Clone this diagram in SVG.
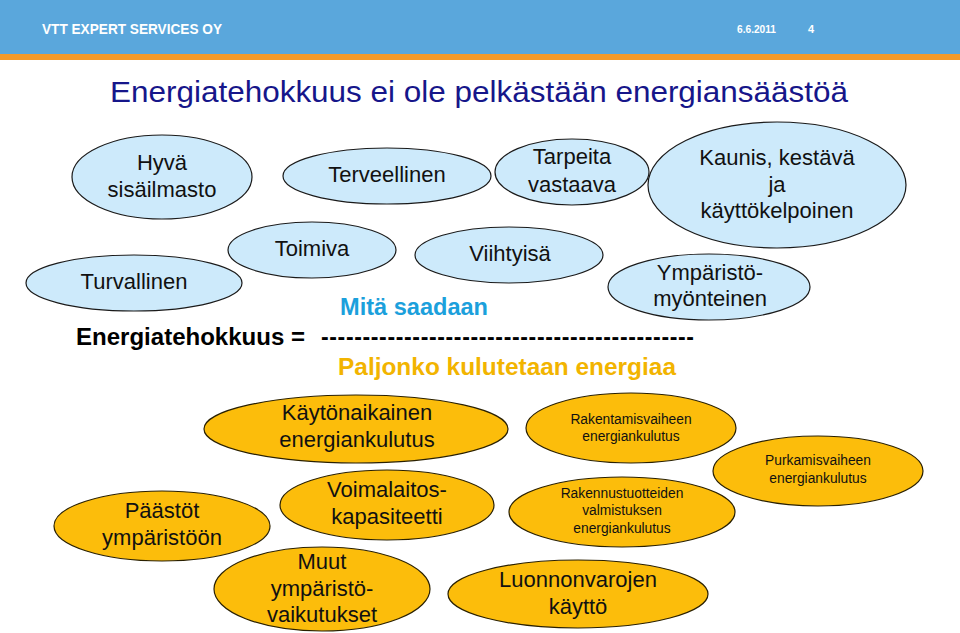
<svg xmlns="http://www.w3.org/2000/svg" width="960" height="633" viewBox="0 0 960 633">
<style>
text{font-family:"Liberation Sans",Arial,sans-serif;text-anchor:middle}
.b{fill:#cdeafb;stroke:#1a1a1a;stroke-width:1.2}
.o{fill:#fcbd0b;stroke:#2a2000;stroke-width:1.2}
.t{font-size:22px;fill:#111}
.tb{font-size:22px;fill:#111}
.s{font-size:13.8px;fill:#111}
.f{font-size:23px;font-weight:bold;text-anchor:start}
</style>
<rect x="0" y="0" width="960" height="54" fill="#5aa7dc"/>
<rect x="0" y="54" width="960" height="6" fill="#f39a2a"/>
<text x="42" y="34" font-size="14.5" font-weight="bold" fill="#fff" style="text-anchor:start" textLength="180" lengthAdjust="spacingAndGlyphs">VTT EXPERT SERVICES OY</text>
<text x="737" y="33" font-size="11" font-weight="bold" fill="#fff" style="text-anchor:start" textLength="39" lengthAdjust="spacingAndGlyphs">6.6.2011</text>
<text x="808" y="33" font-size="11" font-weight="bold" fill="#fff" style="text-anchor:start">4</text>
<text x="110" y="102" font-size="30" fill="#16168a" style="text-anchor:start" textLength="738" lengthAdjust="spacingAndGlyphs">Energiatehokkuus ei ole pelkästään energiansäästöä</text>

<g id="hyva"><ellipse class="b" cx="162" cy="177" rx="90" ry="42"/><text class="t" x="162" y="170">Hyvä</text><text class="t" x="162" y="197">sisäilmasto</text></g>
<g id="terveellinen"><ellipse class="b" cx="387" cy="176" rx="104" ry="28"/><text class="t" x="387" y="182">Terveellinen</text></g>
<g id="tarpeita"><ellipse class="b" cx="572" cy="172" rx="77" ry="33"/><text class="t" x="572" y="164">Tarpeita</text><text class="t" x="572" y="192">vastaava</text></g>
<g id="kaunis"><ellipse class="b" cx="777" cy="185" rx="129" ry="63"/><text class="t" x="777" y="165">Kaunis, kestävä</text><text class="t" x="777" y="192">ja</text><text class="t" x="777" y="218">käyttökelpoinen</text></g>
<g id="toimiva"><ellipse class="b" cx="312" cy="250" rx="84" ry="28"/><text class="t" x="312" y="256">Toimiva</text></g>
<g id="viihtyisa"><ellipse class="b" cx="509" cy="255" rx="94" ry="28"/><text class="t" x="510" y="261">Viihtyisä</text></g>
<g id="turvallinen"><ellipse class="b" cx="134" cy="283" rx="108" ry="28"/><text class="t" x="134" y="289">Turvallinen</text></g>
<g id="ymparistomyonteinen"><ellipse class="b" cx="709" cy="287" rx="101" ry="33"/><text class="t" x="710" y="280">Ympäristö-</text><text class="t" x="710" y="306">myönteinen</text></g>

<g id="kaava">
<text class="f" x="340" y="315" fill="#1ba0dc" textLength="148" lengthAdjust="spacingAndGlyphs">Mitä saadaan</text>
<text class="f" x="76" y="345" fill="#000" textLength="229" lengthAdjust="spacingAndGlyphs">Energiatehokkuus =</text>
<text class="f" x="321" y="345" fill="#000" textLength="373" lengthAdjust="spacing">---------------------------------------------</text>
<text class="f" x="338" y="375" fill="#f2b400" textLength="338" lengthAdjust="spacingAndGlyphs">Paljonko kulutetaan energiaa</text>
</g>

<g id="kaytonaikainen"><ellipse class="o" cx="356" cy="429" rx="152" ry="34"/><text class="tb" x="357" y="420">Käytönaikainen</text><text class="tb" x="357" y="447">energiankulutus</text></g>
<g id="paastot"><ellipse class="o" cx="162" cy="526" rx="108" ry="35"/><text class="tb" x="162" y="518">Päästöt</text><text class="tb" x="162" y="545">ympäristöön</text></g>
<g id="voimalaitos"><ellipse class="o" cx="387" cy="505" rx="107" ry="35"/><text class="tb" x="387" y="497">Voimalaitos-</text><text class="tb" x="387" y="524">kapasiteetti</text></g>
<g id="muut"><ellipse class="o" cx="322" cy="589" rx="108" ry="42"/><text class="tb" x="322" y="569">Muut</text><text class="tb" x="322" y="596">ympäristö-</text><text class="tb" x="322" y="622">vaikutukset</text></g>
<g id="luonnonvarojen"><ellipse class="o" cx="578" cy="594" rx="130" ry="34"/><text class="tb" x="578" y="587">Luonnonvarojen</text><text class="tb" x="578" y="614">käyttö</text></g>
<g id="rakentamisvaiheen"><ellipse class="o" cx="631" cy="428" rx="105" ry="35"/><text class="s" x="631" y="424">Rakentamisvaiheen</text><text class="s" x="631" y="441">energiankulutus</text></g>
<g id="rakennustuotteiden"><ellipse class="o" cx="622" cy="512" rx="113" ry="35"/><text class="s" x="622" y="498">Rakennustuotteiden</text><text class="s" x="622" y="515">valmistuksen</text><text class="s" x="622" y="533">energiankulutus</text></g>
<g id="purkamisvaiheen"><ellipse class="o" cx="818" cy="471" rx="105" ry="35"/><text class="s" x="818" y="465">Purkamisvaiheen</text><text class="s" x="818" y="483">energiankulutus</text></g>
<g id="connectors"></g>
</svg>
